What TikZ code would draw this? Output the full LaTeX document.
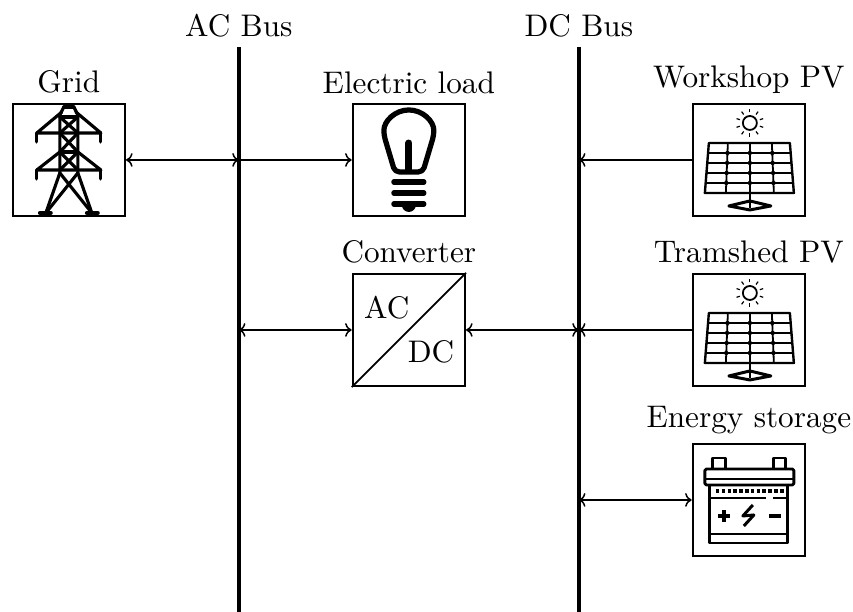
\documentclass[tikz,border=0pt]{standalone}
\usetikzlibrary{positioning,arrows.meta}
\tikzset{
  >={To[length=2.2pt,width=4.6pt]},
  every node/.style={font=\fontsize{10.45}{12.6}\selectfont},
  devbox/.style={draw, line width=0.7pt, minimum size=1.32cm, inner sep=0pt},
  busline/.style={line width=1.25pt},
  flowline/.style={line width=0.5pt},
  devtext/.style={above=-0.4pt of #1},
  pics/gridicon/.style={code={
    \begin{scope}[line width=1.05pt, line cap=round, line join=round]
      \draw (-5,53) -- (5,53);
      \draw (-5,53) -- (-9,45) -- (-9,-13);
      \draw (5,53) -- (9,45) -- (9,-13);
      \draw (-7,48) -- (-32,27) -- (32,27) -- (7,48);
      \draw (-32,27) -- (-32,18);
      \draw (32,27) -- (32,18);
      \draw (-9,8) -- (-32,-10) -- (32,-10) -- (9,8);
      \draw (-32,-10) -- (-32,-19);
      \draw (32,-10) -- (32,-19);
      \draw (-9,43) -- (9,43);
      \draw (-9,8) -- (9,8);
      \draw (-9,43) -- (9,27) -- (-9,8) -- (9,-10);
      \draw (9,43) -- (-9,27) -- (9,8) -- (-9,-10);
      \draw (-9,-13) -- (-23,-53);
      \draw (9,-13) -- (23,-53);
      \draw (9,-13) -- (-23,-53);
      \draw (-9,-13) -- (23,-53);
      \draw[line width=1.3pt] (-29,-53) -- (-18,-53);
      \draw[line width=1.3pt] (18,-53) -- (29,-53);
    \end{scope}
  }},
  pics/bulbicon/.style={code={
    \begin{scope}[line width=1.75pt, line cap=round, line join=round]
      \draw[rounded corners=1.5pt] (-14,-12) -- (14,-12) -- (25,25) arc (0:180:25) -- cycle;
      \draw[line width=2.3pt] (0,17) -- (0,-10);
      \draw (-15,-22) -- (15,-22);
      \draw (-15,-33) -- (15,-33);
      \draw (-15,-44) -- (15,-44);
      \fill (-7,-45) arc (180:360:7) -- cycle;
    \end{scope}
  }},
  pics/pvicon/.style={code={
    \begin{scope}[line width=0.6pt, line join=round]
      \draw (1,37) circle (7);
      \foreach \ang in {18,54,...,342}
        \draw[line width=0.4pt] (1,37) ++(\ang:10.5) -- ++(\ang:3.5);
      \draw[line width=0.8pt] (-40,17) -- (41,17) -- (45,-33) -- (-44,-33) -- cycle;
      \foreach \rowy/\ul/\ur in {7/-41/42,-3/-42/43,-13/-43/43,-23/-43/44}
        \draw (\ul,\rowy) -- (\ur,\rowy);
      \foreach \tx/\bx in {-21/-23,1/1,23/25} {
        \draw (\tx,17) -- (\bx,-33);
        \foreach \rowy in {7,-3,-13,-23}
          \fill ({\tx+(\bx-\tx)*(17-\rowy)/50},\rowy) circle (2.2);
      }
      \draw[line width=0.8pt] (1,-33) -- (1,-48);
      \draw[line width=1pt] (-20,-46) -- (1,-41) -- (22,-46) -- (1,-50) -- cycle;
    \end{scope}
  }},
  pics/batticon/.style={code={
    \begin{scope}[line width=0.95pt, line join=round]
      \draw (-36,31) -- (-36,42) -- (-23,42) -- (-23,31);
      \draw (25,31) -- (25,42) -- (37,42) -- (37,31);
      \draw[rounded corners=0.5pt] (-44,15) rectangle (45,31);
      \draw (-44,21) -- (45,21);
      \draw (-39,15) -- (-39,-43) -- (39,-43) -- (39,15);
      \draw[line width=1.2pt, dash pattern=on 1.2pt off 0.75pt] (-33,9) -- (35,9);
      \draw (-39,2) -- (17,2);
      \draw (24,2) -- (39,2);
      \draw (-39,-34) -- (39,-34);
      \draw[line width=1.15pt] (-31,-16) -- (-19,-16);
      \draw[line width=1.15pt] (-25,-22) -- (-25,-10);
      \draw[line width=1.3pt] (20,-16) -- (32,-16);
      \draw[line width=1pt] (4,-5) -- (-6,-16) -- (5,-15) -- (-5,-26);
    \end{scope}
  }}
}
\begin{document}
\begin{tikzpicture}
\useasboundingbox (-0.81,1.882) rectangle (9.225,-5.318);
\coordinate (actop) at (2,1.33);
\coordinate (acbot) at (2,-5.4);
\coordinate (dctop) at (6,1.33);
\coordinate (dcbot) at (6,-5.4);
\coordinate (ac0) at (2,0);
\coordinate (ac2) at (2,-2);
\coordinate (dc0) at (6,0);
\coordinate (dc2) at (6,-2);
\coordinate (dc4) at (6,-4);
\node[devbox] (grid) at (0,0) {};
\node[devbox] (load) at (4,0) {};
\node[devbox] (conv) at (4,-2) {};
\node[devbox] (wpv) at (8,0) {};
\node[devbox] (tpv) at (8,-2) {};
\node[devbox] (batt) at (8,-4) {};
\node[devtext=grid] (gridtext) {Grid};
\node[devtext=load] (loadtext) {Electric load};
\node[devtext=conv] (convtext) {Converter};
\node[devtext=wpv] (wpvtext) {Workshop PV};
\node[devtext=tpv] (tpvtext) {Tramshed PV};
\node[devtext=batt] (batttext) {Energy storage};
\node[above=-0.4pt of actop] (actext) {AC Bus};
\node[above=-0.4pt of dctop] (dctext) {DC Bus};
\node (acside) at (3.74,-1.74) {AC};
\node (dcside) at (4.26,-2.26) {DC};
\pic[scale=0.01176] at (grid) {gridicon};
\pic[scale=0.01176] at (load) {bulbicon};
\pic[scale=0.01176] at (wpv) {pvicon};
\pic[scale=0.01176] at (tpv) {pvicon};
\pic[scale=0.01176] at (batt) {batticon};
\draw[semithick] (conv.south west) -- (conv.north east);
\draw[busline] (actop) -- (acbot);
\draw[busline] (dctop) -- (dcbot);
\draw[flowline, <->] (grid) -- (ac0);
\draw[flowline, ->] (ac0) -- (load);
\draw[flowline, <->] (ac2) -- (conv);
\draw[flowline, <->] (conv) -- (dc2);
\draw[flowline, ->] (wpv) -- (dc0);
\draw[flowline, ->] (tpv) -- (dc2);
\draw[flowline, <->] (dc4) -- (batt);
\end{tikzpicture}
\end{document}
